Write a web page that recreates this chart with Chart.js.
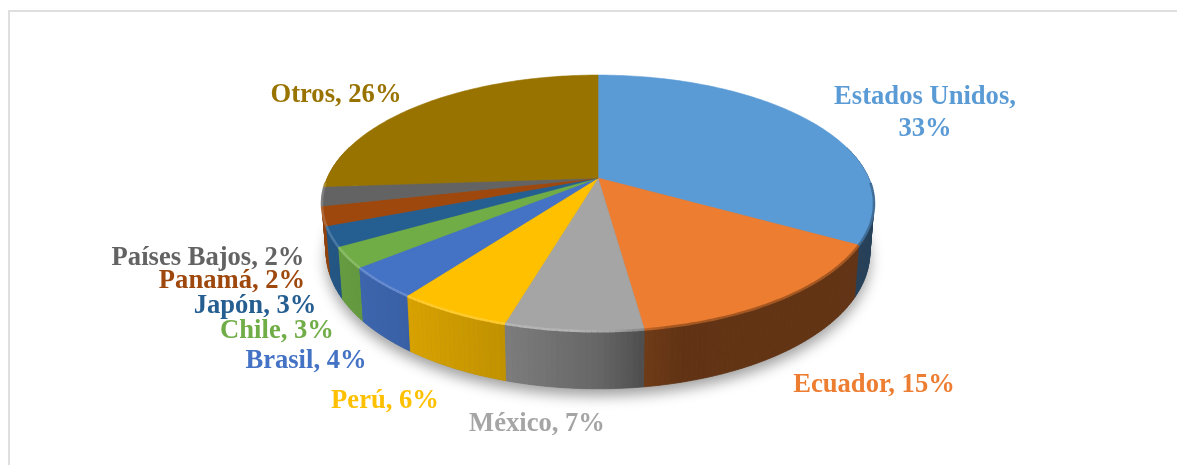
<!DOCTYPE html>
<html><head><meta charset="utf-8">
<style>html,body{margin:0;padding:0;background:#fff}canvas{display:block}</style>
<script src="https://cdn.jsdelivr.net/npm/chart.js@4/dist/chart.umd.min.js"></script>
</head><body>
<canvas id="c" width="1177" height="465"></canvas>
<script>
const categories = ["Estados Unidos","Ecuador","México","Perú","Brasil","Chile","Japón","Panamá","Países Bajos","Otros"];
const shares = [33.2,14.6,6.7,5.6,3.9,2.6,2.5,2.4,2.4,26.1];
const sliceColors = ["#5B9BD5","#ED7D31","#A5A5A5","#FFC000","#4472C4","#70AD47","#255E91","#9E480E","#636363","#997300"];

// label anchor per slice (centre x, baseline y); lines split where the reference wraps
const labelAnchors = [[925,104],[874,392],[537,431],[385,408],[306,368],[277,338],[255,313],[232,288],[208,265],[336,102]];

// perspective view of the pie disc
const view = {cx:598, cy:178, a:270.7, b:123, k:0.195, wallBase:47, wallFront:11, wallScale:0.985};
const shadeStops = [[-1,.92],[-.35,.76],[0,.62],[.17,.47],[.3,.41],[1,.42]];

function rim(theta){
  const u=Math.sin(theta), v=-Math.cos(theta), w=1-view.k*v;
  return {x:view.cx+view.a*u/w, y:view.cy+view.b*v/w, v};
}
function base(p){
  return {x:view.cx+(p.x-view.cx)*view.wallScale, y:p.y+view.wallBase+view.wallFront*p.v};
}
function shadeAt(x){
  const n=Math.max(-1,Math.min(1,(x-view.cx)/276));
  for(let i=1;i<shadeStops.length;i++){
    const [a,fa]=shadeStops[i-1],[b,fb]=shadeStops[i];
    if(n<=b) return fa+(fb-fa)*(n-a)/(b-a);
  }
  return .42;
}
function rgb(hex){return [1,3,5].map(i=>parseInt(hex.substr(i,2),16));}
function scaled(hex,f){
  const c=rgb(hex).map(x=>x*f);
  return `rgb(${c.map(x=>Math.round(Math.min(255,x))).join(',')})`;
}
function bevel(hex,x){
  const n=(x-view.cx)/276;
  if(n>.05){
    const f=1-.3*Math.min(1,(n-.05)/.2);
    return scaled(hex,f);
  }
  const lift=.18*Math.min(1,(.05-n)/.15);
  const c=rgb(hex).map(x=>x+(255-x)*lift);
  return `rgb(${c.map(Math.round).join(',')})`;
}

const pie3d = {
  id:'pie3d',
  beforeDraw(chart){
    const ctx=chart.ctx;
    ctx.save();
    ctx.fillStyle='#fff';ctx.fillRect(0,0,chart.width,chart.height);
    ctx.fillStyle='#dfdfdf';
    ctx.fillRect(8,10,chart.width-8,2);
    ctx.fillRect(8,10,2,chart.height-10);
    ctx.restore();
  },
  beforeDatasetDraw(chart,args){
    const ctx=chart.ctx, arcs=args.meta.data;
    const toTheta=a=>a+Math.PI/2, step=Math.PI/180;
    ctx.save();
    // soft shadow below the disc
    ctx.save();
    ctx.shadowColor='rgba(0,0,0,.38)';ctx.shadowBlur=14;ctx.shadowOffsetX=0;ctx.shadowOffsetY=7;
    ctx.fillStyle='#777';
    ctx.beginPath();
    for(let d=0;d<=360;d+=2){const b=base(rim(d*Math.PI/180));d?ctx.lineTo(b.x,b.y):ctx.moveTo(b.x,b.y);}
    ctx.closePath();ctx.fill();
    ctx.restore();
    // side wall, back to front
    const quads=[];
    arcs.forEach((arc,i)=>{
      const s=toTheta(arc.startAngle), e=toTheta(arc.endAngle), color=arc.options.backgroundColor;
      for(let t=s;t<e-1e-6;t+=step){
        const p=rim(t), q=rim(Math.min(t+step,e));
        quads.push({p,q,color,v:(p.v+q.v)/2});
      }
    });
    quads.sort((m,n)=>m.v-n.v).forEach(({p,q,color})=>{
      if(p.v<-.25&&q.v<-.25) return;
      const bp=base(p), bq=base(q);
      ctx.fillStyle=ctx.strokeStyle=scaled(color,shadeAt((p.x+q.x)/2));
      ctx.lineWidth=.7;
      ctx.beginPath();ctx.moveTo(p.x,p.y);ctx.lineTo(q.x,q.y);ctx.lineTo(bq.x,bq.y);ctx.lineTo(bp.x,bp.y);ctx.closePath();
      ctx.fill();ctx.stroke();
    });
    // top faces
    arcs.forEach(arc=>{
      const s=toTheta(arc.startAngle), e=toTheta(arc.endAngle), color=arc.options.backgroundColor;
      ctx.fillStyle=ctx.strokeStyle=color;ctx.lineWidth=.6;
      ctx.beginPath();ctx.moveTo(view.cx,view.cy);
      for(let t=s;t<e;t+=step){const p=rim(t);ctx.lineTo(p.x,p.y);}
      const last=rim(e);ctx.lineTo(last.x,last.y);ctx.closePath();ctx.fill();ctx.stroke();
    });
    // rim bevel on the part of the rim that faces the viewer
    quads.forEach(({p,q,color})=>{
      if(p.v<.02||q.v<.02) return;
      ctx.strokeStyle=bevel(color,(p.x+q.x)/2);
      ctx.lineWidth=2.5;
      ctx.beginPath();ctx.moveTo(p.x,p.y+.5);ctx.lineTo(q.x,q.y+.5);ctx.stroke();
    });
    ctx.restore();
    return false;
  },
  afterDraw(chart){
    const ctx=chart.ctx, data=chart.data.datasets[0].data;
    ctx.save();
    ctx.font='bold 26.6px "Liberation Serif"';
    ctx.textAlign='center';ctx.textBaseline='alphabetic';
    chart.data.labels.forEach((name,i)=>{
      const pct=Math.round(data[i])+'%';
      const [x,y]=labelAnchors[i];
      ctx.fillStyle=sliceColors[i];
      if(i===0){
        ctx.fillText(name+',',x,y);
        ctx.fillText(pct,x,y+32);
      } else ctx.fillText(name+', '+pct,x,y);
    });
    ctx.restore();
  }
};

new Chart(document.getElementById('c'),{
  type:'pie',
  data:{labels:categories,datasets:[{data:shares,backgroundColor:sliceColors,borderWidth:0}]},
  options:{responsive:false,animation:false,plugins:{legend:{display:false},tooltip:{enabled:false}}},
  plugins:[pie3d]
});
</script>
</body></html>
